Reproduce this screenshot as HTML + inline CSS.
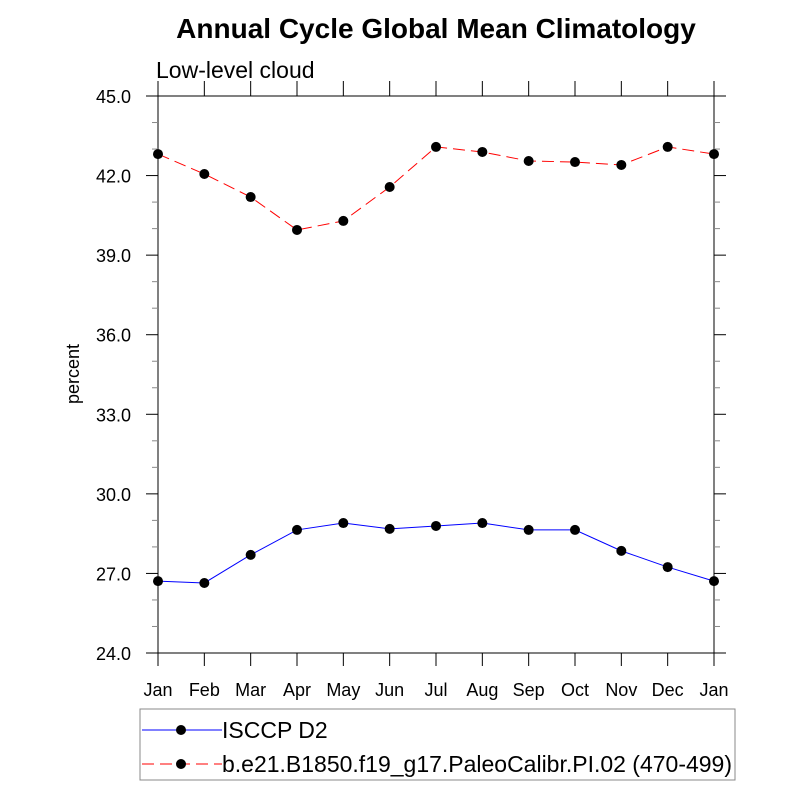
<!DOCTYPE html>
<html><head><meta charset="utf-8"><style>
body{margin:0;background:#fff}
svg{font-family:"Liberation Sans",sans-serif}
</style></head><body>
<svg id="c" width="800" height="800" xmlns="http://www.w3.org/2000/svg">
<text x="436" y="38" text-anchor="middle" font-size="28" font-weight="bold">Annual Cycle Global Mean Climatology</text>
<text x="156" y="78" font-size="23">Low-level cloud</text>
<text transform="translate(79,374) rotate(-90)" text-anchor="middle" font-size="18">percent</text>
<g id="axes"></g>
<g id="series"></g>
<g>
<rect x="140" y="709" width="595" height="71" fill="none" stroke="#888" stroke-width="1"/>
<g>
<line x1="142" y1="730" x2="222" y2="730" stroke="#0000ff" stroke-width="1"/>
<circle cx="181" cy="730" r="5" fill="#000"/>
<text x="222" y="738" font-size="23">ISCCP D2</text></g>
<g>
<line x1="142" y1="764" x2="222" y2="764" stroke="#ff0000" stroke-width="1" stroke-dasharray="12,6"/>
<circle cx="181" cy="764" r="5" fill="#000"/>
<text x="222" y="772" font-size="23" textLength="510" lengthAdjust="spacingAndGlyphs">b.e21.B1850.f19_g17.PaleoCalibr.PI.02 (470-499)</text></g>
</g>
</svg>
<script>
const months=["Jan","Feb","Mar","Apr","May","Jun","Jul","Aug","Sep","Oct","Nov","Dec","Jan"];
const isccp=[26.71,26.64,27.70,28.64,28.90,28.68,28.79,28.90,28.64,28.64,27.85,27.24,26.71];
const model=[42.81,42.06,41.19,39.95,40.29,41.57,43.08,42.89,42.55,42.51,42.40,43.08,42.81];
const yTicks=["24.0","27.0","30.0","33.0","36.0","39.0","42.0","45.0"];
const L=158,R=714,T=96,B=653,ymin=24,ymax=45;
const NS="http://www.w3.org/2000/svg";
const xs=i=>L+(R-L)*i/(months.length-1);
const ys=v=>B-(v-ymin)/(ymax-ymin)*(B-T);
function mk(t,a,p){const e=document.createElementNS(NS,t);for(const k in a)e.setAttribute(k,a[k]);p.appendChild(e);return e;}
const ax=document.getElementById('axes');
const fr=mk('rect',{x:L,y:T,width:R-L,height:B-T,fill:'none',stroke:'#000','stroke-width':1},ax);


months.forEach((m,i)=>{const x=xs(i);
mk('line',{x1:x,y1:B,x2:x,y2:B+13,stroke:'#000'},ax);
mk('line',{x1:x,y1:T,x2:x,y2:T-15,stroke:'#000'},ax);
const t=mk('text',{x:x,y:B+43,'text-anchor':'middle','font-size':18},ax);t.textContent=m;

});
for(let v=ymin;v<=ymax;v+=1){const y=ys(v);const major=(v-ymin)%3===0;const len=major?12:6;
mk('line',{x1:L,y1:y,x2:L-len,y2:y,stroke:major?'#000':'#888'},ax);
mk('line',{x1:R,y1:y,x2:R+len,y2:y,stroke:major?'#000':'#888'},ax);}
yTicks.forEach(s=>{const v=parseFloat(s);const t=mk('text',{x:131,y:ys(v)+7,'text-anchor':'end','font-size':18},ax);t.textContent=s;

});
const sg=document.getElementById('series');
function draw(vals,color,dash,name){const g=mk('g',{},sg);


mk('polyline',{points:vals.map((v,i)=>xs(i)+','+ys(v)).join(' '),fill:'none',stroke:color,'stroke-width':1,'stroke-dasharray':dash},g);
vals.forEach((v,i)=>{const c=mk('circle',{cx:xs(i),cy:ys(v),r:5,fill:'#000'},g);

});}
draw(isccp,'#0000ff','none','series-isccp');
draw(model,'#ff0000','12,6','series-model');
</script>
</body></html>
